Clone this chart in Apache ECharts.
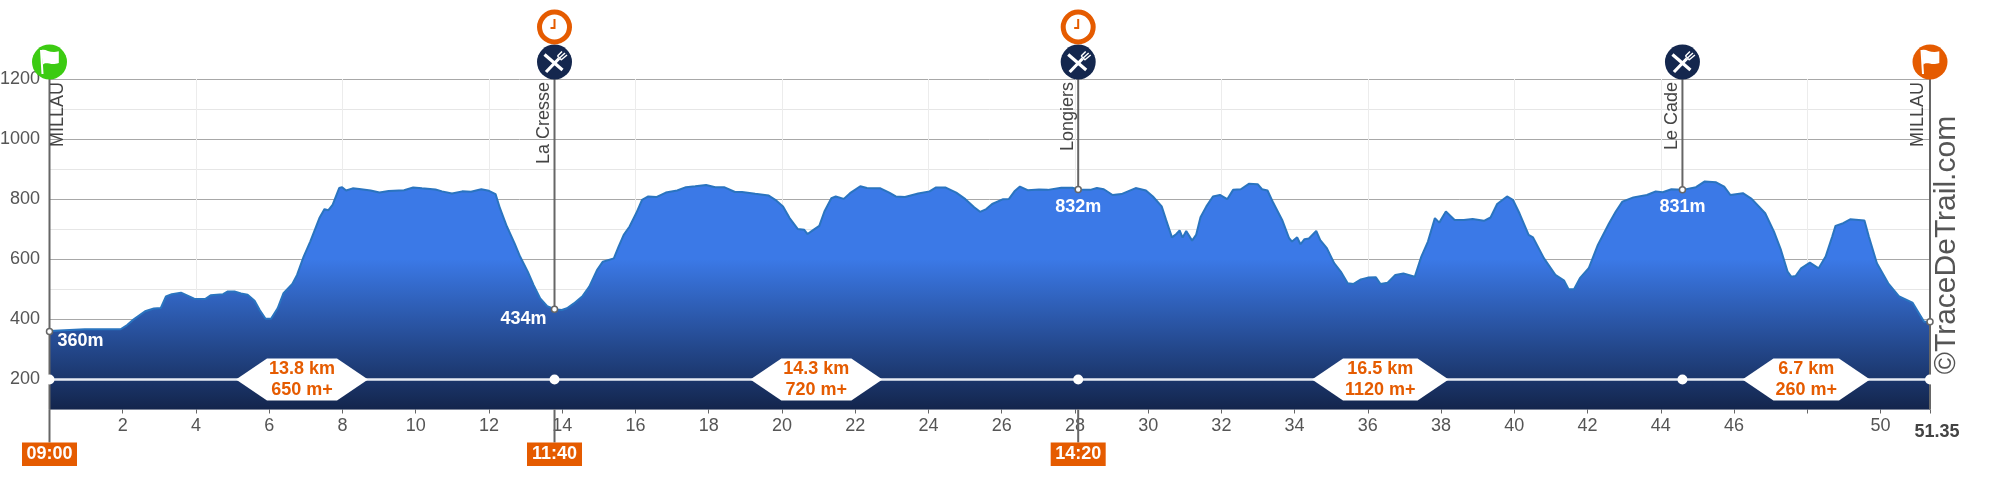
<!DOCTYPE html>
<html>
<head>
<meta charset="utf-8">
<style>html,body{margin:0;padding:0;background:#fff}#c{width:2000px;height:490px}</style>
<script src="https://cdn.jsdelivr.net/npm/echarts@6/dist/echarts.min.js"></script>
</head>
<body>
<div id="c"></div>
<script>
const distanceKm = [0,0.96,1.94,2.12,2.30,2.61,2.85,3.04,3.18,3.34,3.59,3.77,3.95,4.26,4.40,4.74,4.87,5.05,5.23,5.41,5.60,5.74,5.90,6.05,6.23,6.39,6.63,6.76,6.94,7.12,7.37,7.51,7.61,7.73,7.91,7.99,8.10,8.28,8.46,8.77,9.01,9.26,9.68,9.93,10.17,10.54,10.72,10.99,11.27,11.51,11.79,12.00,12.18,12.30,12.49,12.70,12.85,13.06,13.22,13.40,13.59,13.79,13.99,14.13,14.32,14.56,14.74,14.95,15.11,15.41,15.54,15.68,15.84,16.02,16.18,16.35,16.57,16.83,17.14,17.38,17.63,17.93,18.18,18.42,18.72,18.91,19.27,19.64,19.82,20.03,20.21,20.43,20.61,20.70,20.86,21.02,21.16,21.35,21.47,21.69,21.86,22.14,22.32,22.50,22.69,22.93,23.11,23.36,23.72,24.03,24.21,24.46,24.76,25.01,25.25,25.41,25.58,25.74,26.04,26.20,26.35,26.50,26.71,27.02,27.26,27.63,27.93,28.09,28.42,28.60,28.79,29.03,29.27,29.66,29.94,30.13,30.37,30.49,30.65,30.77,30.86,30.94,31.04,31.20,31.31,31.43,31.59,31.77,31.96,32.16,32.32,32.53,32.75,32.99,33.11,33.26,33.42,33.66,33.85,33.93,34.07,34.16,34.27,34.39,34.59,34.70,34.88,35.08,35.26,35.45,35.61,35.81,36.00,36.22,36.34,36.54,36.75,36.97,37.28,37.46,37.64,37.83,37.95,38.13,38.37,38.62,38.86,39.17,39.35,39.53,39.80,39.96,40.14,40.39,40.51,40.81,41.12,41.36,41.48,41.63,41.79,42.03,42.28,42.58,42.77,42.95,43.25,43.62,43.86,44.05,44.29,44.59,44.96,45.20,45.51,45.73,45.90,46.24,46.48,46.85,47.09,47.28,47.46,47.56,47.68,47.83,48.07,48.31,48.50,48.68,48.77,48.98,49.17,49.56,49.68,49.90,50.21,50.51,50.87,51.19,51.35];
const elevationM = [361,367,367,381,400,427,436,438,476,484,489,479,469,468,480,484,493,493,486,482,462,431,402,402,437,487,518,548,609,659,737,767,763,781,837,840,829,836,834,829,822,827,830,839,836,832,826,819,826,825,833,828,817,770,709,653,609,559,514,470,444,434,431,437,453,478,509,564,592,603,642,681,709,753,798,809,807,822,829,840,843,847,840,840,824,824,818,812,798,776,737,701,698,684,698,711,759,803,809,801,820,843,837,836,836,822,809,807,819,826,839,839,822,800,773,758,767,784,800,801,826,842,830,832,831,838,838,832,831,837,833,814,817,837,829,809,776,731,673,684,696,672,694,662,681,740,776,809,814,800,831,833,851,850,833,829,787,731,670,659,673,650,667,669,694,664,637,587,559,520,518,533,539,540,518,522,548,553,542,609,659,737,722,759,731,731,734,728,739,784,809,798,753,681,673,603,548,529,500,500,537,570,648,718,759,792,806,814,826,823,833,831,840,859,856,842,814,820,801,753,692,631,559,542,544,570,589,570,609,676,711,720,733,729,676,587,520,476,456,392,392];

const stopKm = [0,13.79,28.09,44.59,51.35];
const stopElevation = [360,434,832,831,392];
const stopNames = ['MILLAU','La Cresse','Longiers','Le Cade','MILLAU'];
const stopKinds = ['start','food','food','food','finish'];
const stopTimes = ['09:00','11:40','14:20','',''];
const stopElevLabels = ['360m','434m','832m','831m',''];
const legDistances = ['13.8 km','14.3 km','16.5 km','6.7 km'];
const legGains = ['650 m+','720 m+','1120 m+','260 m+'];
const trailLevel = 200;
const xMax = 51.35;
const hiddenXLabels = [0,48];

const FONT = '"Liberation Sans", Arial, sans-serif';
const ORANGE = '#e55b00', NAVY = '#14274e', GREY = '#666666';
const measure = document.createElement('canvas').getContext('2d');
measure.font = 'bold 18px ' + FONT;

function renderLeg(params, api){
  const c = api.coord([api.value(0), trailLevel]);
  const i = params.dataIndex;
  const w = Math.max(measure.measureText(legDistances[i]).width, measure.measureText(legGains[i]).width)/2 + 2;
  const h = 21, s = 31;
  return {type:'group', children:[
    {type:'polygon', shape:{points:[[c[0]-w-s,c[1]],[c[0]-w,c[1]-h],[c[0]+w,c[1]-h],[c[0]+w+s,c[1]],[c[0]+w,c[1]+h],[c[0]-w,c[1]+h]]}, style:{fill:'#fff'}},
    {type:'text', x:c[0], y:c[1]-10, style:{text:legDistances[i], fill:ORANGE, font:'bold 18px '+FONT, textAlign:'center', textVerticalAlign:'middle'}},
    {type:'text', x:c[0], y:c[1]+11, style:{text:legGains[i], fill:ORANGE, font:'bold 18px '+FONT, textAlign:'center', textVerticalAlign:'middle'}}
  ]};
}

function renderStop(params, api){
  const i = params.dataIndex, km = api.value(0), el = api.value(1);
  const kind = stopKinds[i];
  const top = api.coord([km,1200]), pt = api.coord([km,el]), base = api.coord([km,100]), trail = api.coord([km,trailLevel]);
  const x = pt[0];
  const kids = [];
  const lineStyle = {stroke:GREY, lineWidth:2};
  kids.push({type:'line', shape:{x1:x,y1:top[1],x2:x,y2:(kind==='start'||kind==='finish')?base[1]:pt[1]}, style:lineStyle});
  if(stopTimes[i]){
    kids.push({type:'line', shape:{x1:x,y1:base[1],x2:x,y2:base[1]+33}, style:lineStyle});
    kids.push({type:'rect', shape:{x:x-27.5,y:base[1]+33,width:55,height:23.5}, style:{fill:ORANGE}});
    kids.push({type:'text', x:x, y:base[1]+45, style:{text:stopTimes[i], fill:'#fff', font:'bold 18px '+FONT, textAlign:'center', textVerticalAlign:'middle'}});
  }
  kids.push({type:'circle', shape:{cx:x,cy:trail[1],r:5}, style:{fill:'#fff'}});
  kids.push({type:'circle', shape:{cx:x,cy:pt[1],r:3}, style:{fill:'#fff',stroke:GREY,lineWidth:1.5}});
  const nameX = kind==='start' ? x+8.5 : (kind==='finish' ? x-12 : x-10);
  kids.push({type:'text', x:nameX, y:top[1]+3, rotation:Math.PI/2, style:{text:stopNames[i], fill:'#444', font:'18px '+FONT, textAlign:'right', textVerticalAlign:'middle'}});
  if(stopElevLabels[i]){
    const lx = kind==='start' ? x+31 : (el<500 ? x-31 : x);
    const ly = kind==='start' ? pt[1]+9.5 : (el<500 ? pt[1]+10 : pt[1]+17);
    kids.push({type:'text', x:lx, y:ly, style:{text:stopElevLabels[i], fill:'#fff', font:'bold 18px '+FONT, textAlign:'center', textVerticalAlign:'middle'}});
  }
  const cy = top[1]-17;
  const iconFill = kind==='start' ? '#3ccb12' : (kind==='finish' ? ORANGE : NAVY);
  kids.push({type:'circle', shape:{cx:x,cy:cy,r:17.5}, style:{fill:iconFill}});
  if(kind==='food'){
    kids.push({type:'path', x:x, y:cy, shape:{pathData:'M-10,-7.5 L8,8 M-8.5,10 L4.5,-3.5'}, style:{fill:'none',stroke:'#fff',lineWidth:3.2}});
    kids.push({type:'path', x:x, y:cy, shape:{pathData:'M3,-6 L7.5,-10.5 M5,-4 L10.5,-9 M6.5,-2 L12.5,-7 M3,-6 L7,-2'}, style:{fill:'none',stroke:'#fff',lineWidth:1.5}});
  } else {
    kids.push({type:'path', x:x, y:cy, shape:{pathData:'M-8.5,-12 L-7,12'}, style:{fill:'none',stroke:'#fff',lineWidth:2}});
    kids.push({type:'path', x:x, y:cy, shape:{pathData:'M-8.3,-11.7 C-4,-14 0,-8 9.3,-10.7 L9.3,1 C1,4 -3,-1 -6.7,2.7 Z'}, style:{fill:'#fff'}});
  }
  if(stopTimes[i] && kind==='food'){
    const ky = top[1]-52;
    kids.push({type:'circle', shape:{cx:x,cy:ky,r:15},style:{fill:'#fff',stroke:ORANGE,lineWidth:5}});
    kids.push({type:'path', x:x, y:ky, shape:{pathData:'M0,-8 L0,1 L-4,1'}, style:{fill:'none',stroke:ORANGE,lineWidth:2}});
  }
  return {type:'group', children:kids};
}

const chart = echarts.init(document.getElementById('c'), null, {renderer:'canvas'});
chart.setOption({
  animation:false,
  textStyle:{fontFamily:FONT},
  grid:{left:49.5, right:70, top:79, bottom:80.5, containLabel:false, outerBoundsMode:'none'},
  xAxis:{
    type:'value', min:0, max:xMax, interval:2,
    axisLine:{show:false},
    axisTick:{show:true,length:4,lineStyle:{color:GREY}},
    splitLine:{show:true,lineStyle:{color:['#ececec','rgba(0,0,0,0)'],width:1}},
    axisLabel:{
      margin:8, color:'#555', fontSize:18, fontFamily:FONT, hideOverlap:false,
      formatter:v=> v===xMax ? '{end|'+v+'}' : (hiddenXLabels.includes(v) ? '' : String(v)),
      rich:{end:{fontWeight:'bold',fontSize:18,color:'#444',fontFamily:FONT,padding:[6,0,0,14]}}
    }
  },
  yAxis:{
    type:'value', min:100, max:1200, interval:100,
    axisLine:{show:false}, axisTick:{show:false},
    splitLine:{show:true,lineStyle:{color:['#e6e6e6','#a8a8a8'],width:1}},
    axisLabel:{margin:9.5,color:'#555',fontSize:18,fontFamily:FONT,formatter:v=> v%200===0 ? String(v) : ''}
  },
  graphic:[{type:'text', x:1947, y:245, rotation:Math.PI/2, style:{text:'©TraceDeTrail.com', fill:'#555', font:'30px '+FONT, textAlign:'center', textVerticalAlign:'middle'}, z:10}],
  series:[
    {type:'line', data:distanceKm.map((d,i)=>[d,elevationM[i]]), symbol:'none', smooth:false,
     lineStyle:{color:'#2a74bf',width:2},
     areaStyle:{origin:'start',opacity:1,color:new echarts.graphic.LinearGradient(0,0,0,1,[
       {offset:0,color:'#3b79e7'},{offset:0.34,color:'#3b79e7'},{offset:1,color:'#13254c'}])},
     z:2},
    {type:'line', data:[[0,trailLevel],[xMax,trailLevel]], symbol:'none', lineStyle:{color:'#e8ecf4',width:2.5}, z:3},
    {type:'custom', coordinateSystem:'cartesian2d', renderItem:renderStop, clip:false, z:4,
     data:stopKm.map((k,i)=>[k,stopElevation[i]])},
    {type:'custom', coordinateSystem:'cartesian2d', renderItem:renderLeg, clip:false, z:5,
     data:legDistances.map((_,i)=>[(stopKm[i]+stopKm[i+1])/2, trailLevel])}
  ]
});
</script>
</body>
</html>
